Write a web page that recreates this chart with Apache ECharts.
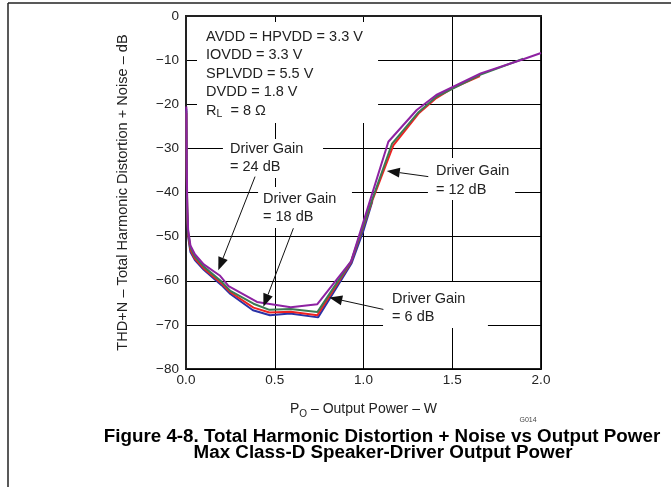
<!DOCTYPE html>
<html><head><meta charset="utf-8">
<script src="https://cdn.jsdelivr.net/npm/echarts@6/dist/echarts.min.js"></script>
<style>html,body{margin:0;padding:0;background:#fff}#c{width:671px;height:487px}</style>
</head><body><div id="c"></div>
<script>
// ---- data ----
const xTickValues = [0.0, 0.5, 1.0, 1.5, 2.0];
const yTickValues = [0, -10, -20, -30, -40, -50, -60, -70, -80];
const seriesNames = ['Driver Gain = 6 dB', 'Driver Gain = 12 dB', 'Driver Gain = 18 dB', 'Driver Gain = 24 dB'];
const gain6 = [[0.002,-21],[0.004,-36],[0.007,-45],[0.012,-50],[0.025,-53.5],[0.05,-55.3],[0.1,-57.5],[0.2,-61],[0.25,-63],[0.377,-66.7],[0.473,-67.8],[0.586,-67.4],[0.744,-68.3],[0.933,-56],[1.0,-48.6],[1.05,-42]];
const gain12 = [[0.002,-22],[0.004,-36],[0.007,-44.5],[0.012,-49.5],[0.025,-53],[0.05,-55],[0.1,-57.2],[0.2,-60.6],[0.25,-62.6],[0.38,-66.1],[0.47,-67.2],[0.59,-67],[0.74,-67.8],[0.93,-55.8],[1.05,-41.8],[1.168,-29.3],[1.31,-22.1],[1.41,-18.6],[1.5,-16.4],[1.656,-13.6]];
const gain18 = [[0.002,-21.5],[0.004,-35],[0.007,-44],[0.012,-49],[0.025,-52.5],[0.05,-54.5],[0.1,-56.8],[0.2,-60.2],[0.25,-62.3],[0.38,-65.2],[0.47,-66.6],[0.59,-66.4],[0.74,-67.1],[0.93,-55.6],[1.05,-41.5],[1.16,-29.0],[1.31,-21.8],[1.41,-18.3],[1.66,-13.3],[1.9,-9.7]];
const gain24 = [[0.002,-20.5],[0.004,-33],[0.007,-43],[0.012,-48.5],[0.025,-52],[0.05,-54],[0.1,-56.3],[0.19,-58.8],[0.24,-61.2],[0.4,-64.8],[0.59,-66],[0.74,-65.3],[0.93,-55.6],[1.14,-28.5],[1.30,-21.3],[1.41,-17.9],[1.66,-13.0],[1.9,-9.8],[2.0,-8.4]];

// ---- annotations (data coordinates) ----
const conditionLines = ['AVDD = HPVDD = 3.3 V', 'IOVDD = 3.3 V', 'SPLVDD = 5.5 V', 'DVDD = 1.8 V', 'R{sub|L}  = 8 Ω'];
const notes = [
  {box:[0.062,-1.36,1.082,-24.25], at:[0.113,-4.76], lines: conditionLines},
  {box:[0.208,-27.9,0.772,-36.7], at:[0.248,-30.14], lines:['Driver Gain','= 24 dB']},
  {box:[0.406,-38.75,0.935,-48.05], at:[0.434,-41.36], lines:['Driver Gain','= 18 dB']},
  {box:[1.363,-32.2,1.854,-41.7], at:[1.408,-35.24], lines:['Driver Gain','= 12 dB']},
  {box:[1.110,-60.3,1.701,-70.7], at:[1.161,-64.13], lines:['Driver Gain','= 6 dB']}
];
const arrows = [
  {from:[0.389,-36.4], to:[0.182,-57.6]},
  {from:[0.605,-48.1], to:[0.436,-65.9]},
  {from:[1.365,-36.4], to:[1.131,-35.1]},
  {from:[1.112,-66.5], to:[0.807,-63.8]}
];

const FONT = '"Liberation Sans", Arial, Helvetica, sans-serif';
const colors = ['#2B33A6', '#EE2222', '#3C7A52', '#8E22A2'];
const datasets = [gain6, gain12, gain18, gain24];

const chart = echarts.init(document.getElementById('c'), null, {renderer:'canvas'});
const minus = v => String(v).replace('-', '\u2212');

chart.setOption({
  animation:false,
  backgroundColor:'#fff',
  textStyle:{fontFamily:FONT},
  grid:{left:186, top:16, right:130, bottom:118, show:true, borderColor:'#222', borderWidth:2, backgroundColor:'transparent'},
  xAxis:{
    type:'value', min:0, max:2, interval:0.5,
    name:'P{sub|O} \u2013 Output Power \u2013 W', nameLocation:'middle', nameGap:31,
    nameTextStyle:{color:'#222', fontSize:14, fontFamily:FONT, rich:{sub:{fontSize:10, padding:[9,0,0,0], fontFamily:FONT, color:'#222'}}},
    axisLine:{lineStyle:{color:'#222', width:2}},
    axisTick:{show:false},
    axisLabel:{color:'#222', fontSize:13.5, margin:4, formatter:v=>v.toFixed(1)},
    splitLine:{show:true, lineStyle:{color:'#000', width:1}}
  },
  yAxis:{
    type:'value', min:-80, max:0, interval:10,
    name:'THD+N \u2013 Total Harmonic Distortion + Noise \u2013 dB', nameLocation:'middle', nameGap:56,
    nameTextStyle:{color:'#222', fontSize:14.6, fontFamily:FONT},
    axisLine:{lineStyle:{color:'#222', width:2}},
    axisTick:{show:false},
    axisLabel:{color:'#222', fontSize:13.5, margin:7, formatter:v=>minus(v)},
    splitLine:{show:true, lineStyle:{color:'#000', width:1}}
  },
  series: datasets.map((d,i)=>({
    name:seriesNames[i], type:'line', data:d, showSymbol:false, symbol:'none',
    lineStyle:{color:colors[i], width:2}, z:2+i, silent:true
  }))
});

function px(p){ return chart.convertToPixel({gridIndex:0}, p); }
const g = [];
// outer frame
g.push({type:'line', shape:{x1:8,y1:3,x2:671,y2:3}, style:{stroke:'#222', lineWidth:1.5}, z:200});
g.push({type:'line', shape:{x1:8,y1:3,x2:8,y2:487}, style:{stroke:'#222', lineWidth:1.5}, z:200});

notes.forEach(n=>{
  const a = px([n.box[0], n.box[1]]), b = px([n.box[2], n.box[3]]);
  g.push({type:'rect', shape:{x:a[0], y:a[1], width:b[0]-a[0], height:b[1]-a[1]}, style:{fill:'#fff'}, z:50, silent:true});
  const t = px(n.at);
  n.lines.forEach((ln,k)=>{
    g.push({type:'text', x:t[0], y:t[1]+k*18.4, z:60, silent:true,
      style:{text:ln, fill:'#222', font:'14.5px '+FONT, verticalAlign:'middle', align:'left',
        rich:{sub:{fontSize:10.5, fontFamily:FONT, fill:'#222', padding:[8,0,0,0]}}}});
  });
});
arrows.forEach(ar=>{
  const f = px(ar.from), t = px(ar.to);
  const dx=t[0]-f[0], dy=t[1]-f[1], L=Math.hypot(dx,dy), ux=dx/L, uy=dy/L;
  const hl=13, hw=5;
  const bx=t[0]-ux*hl, by=t[1]-uy*hl;
  g.push({type:'line', shape:{x1:f[0],y1:f[1],x2:bx,y2:by}, style:{stroke:'#111', lineWidth:1}, z:70, silent:true});
  g.push({type:'polygon', shape:{points:[[t[0],t[1]],[bx-uy*hw,by+ux*hw],[bx+uy*hw,by-ux*hw]]}, style:{fill:'#111'}, z:70, silent:true});
});
// caption
g.push({type:'text', x:528, y:420, z:60, style:{text:'G014', fill:'#444', font:'7px '+FONT, align:'center', verticalAlign:'middle'}});
g.push({type:'text', x:382, y:437, z:60, style:{text:'Figure 4-8. Total Harmonic Distortion + Noise vs Output Power', fill:'#000', font:'bold 18.8px '+FONT, align:'center', verticalAlign:'middle'}});
g.push({type:'text', x:383, y:453, z:60, style:{text:'Max Class-D Speaker-Driver Output Power', fill:'#000', font:'bold 18.8px '+FONT, align:'center', verticalAlign:'middle'}});

chart.setOption({graphic:g});
</script></body></html>
